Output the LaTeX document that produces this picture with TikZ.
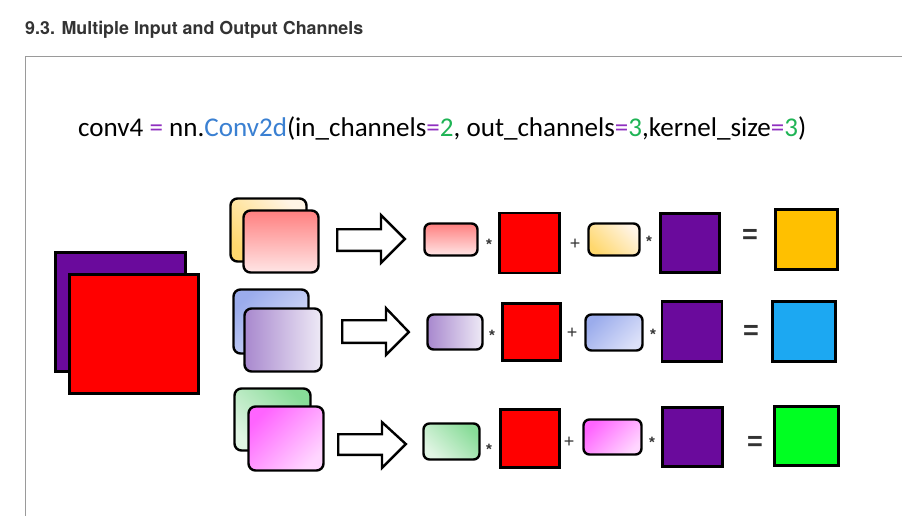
\documentclass[tikz,border=0pt]{standalone}
\usepackage{fontspec}
\setmainfont{Carlito}
\newfontfamily\heros{TeX Gyre Heros}
\newfontfamily\arialf{Liberation Sans}
\usepackage{graphicx}
\definecolor{cpurple}{HTML}{9030C0}
\definecolor{cblue}{HTML}{3A80D2}
\definecolor{cgreen}{HTML}{1FB455}
\definecolor{sqpurple}{HTML}{6A0A9C}
\definecolor{sqred}{HTML}{FF0000}
\definecolor{sqorange}{HTML}{FFC000}
\definecolor{sqblue}{HTML}{1CA8F2}
\definecolor{sqgreen}{HTML}{00FF22}
\definecolor{framegray}{HTML}{9A9A9A}
\definecolor{opgray}{HTML}{333333}
\begin{document}
\begin{tikzpicture}[x=1pt,y=-1pt,
  sq/.style={draw=black,line width=2.6pt,minimum width=#1,minimum height=#1,inner sep=0pt,outer sep=0pt},
  kern/.style={draw=black,line width=2.4pt,rounded corners=7pt,inner sep=0pt,outer sep=0pt},
  kpink/.style={kern,top color=red!50!white,bottom color=red!10!white,shading angle=0},
  kyellow/.style={kern,top color=yellow!15!orange!10!white,bottom color={rgb,255:red,255;green,216;blue,110},shading angle=-45},
  kblue/.style={kern,top color={rgb,255:red,155;green,172;blue,236},bottom color={rgb,255:red,220;green,225;blue,249},shading angle=45},
  klav/.style={kern,top color={rgb,255:red,168;green,136;blue,206},bottom color={rgb,255:red,238;green,234;blue,246},shading angle=90},
  kgreen/.style={kern,top color={rgb,255:red,136;green,220;blue,152},bottom color={rgb,255:red,225;green,245;blue,228},shading angle=-45},
  kmag/.style={kern,top color={rgb,255:red,255;green,100;blue,255},bottom color={rgb,255:red,255;green,214;blue,255},shading angle=45},
  blockarrow/.style={draw=black,line width=2.4pt,fill=white,line join=miter},
  opstar/.style={text=opgray,font=\arialf\bfseries\fontsize{15}{15}\selectfont,inner sep=0pt},
  opplus/.style={text=opgray,font=\arialf\fontsize{18}{18}\selectfont,inner sep=0pt},
  opeq/.style={text=opgray,font=\arialf\bfseries\fontsize{27}{27}\selectfont,inner sep=0pt}
]
\useasboundingbox (0,0) rectangle (902,516);
\fill[white] (0,0) rectangle (902,516);
% title and frame
\node[anchor=base west,inner sep=0pt,text=opgray] (title) at (25,35)
  {\resizebox{338pt}{!}{\heros\bfseries 9.3. Multiple Input and Output Channels}};
\coordinate (fTL) at (25,57);
\coordinate (fTR) at (902,57);
\coordinate (fBL) at (25,516);
\draw[framegray,line width=1pt] (fTR) -- (fTL) -- (fBL);
% code line
\node[anchor=base west,inner sep=0pt] (code) at (78,137)
  {\resizebox{728pt}{!}{conv4 \textcolor{cpurple}{=} nn.\textcolor{cblue}{Conv2d}(in\_channels\textcolor{cpurple}{=}\textcolor{cgreen}{2}, out\_channels\textcolor{cpurple}{=}\textcolor{cgreen}{3},kernel\_size\textcolor{cpurple}{=}\textcolor{cgreen}{3})}};
% input channels
\node[draw=black,line width=2.6pt,fill=sqpurple,minimum width=130pt,minimum height=119pt,inner sep=0pt] (inP) at (120.5,312) {};
\node[draw=black,line width=2.6pt,fill=sqred,minimum width=129pt,minimum height=119pt,inner sep=0pt] (inR) at (134,334) {};
% kernel stacks
\node[kyellow,minimum width=76pt,minimum height=63pt] (k1b) at (268.5,230) {};
\node[kpink,minimum width=75pt,minimum height=62pt] (k1f) at (281,241.5) {};
\node[kblue,minimum width=75pt,minimum height=64pt] (k2b) at (271,321.5) {};
\node[klav,minimum width=77pt,minimum height=63pt] (k2f) at (283,340) {};
\node[kgreen,minimum width=76pt,minimum height=62pt] (k3b) at (272.5,419.5) {};
\node[kmag,minimum width=75pt,minimum height=64pt] (k3f) at (286,438.5) {};
% block arrows
\draw[blockarrow] (337.2,229.2) -- (381,229.2) -- (381,215.2) -- (404.8,239) -- (381,262.8) -- (381,250.8) -- (337.2,250.8) -- cycle;
\draw[blockarrow] (342.2,320.2) -- (386,320.2) -- (386,308.2) -- (408.8,332) -- (386,354.8) -- (386,342.8) -- (342.2,342.8) -- cycle;
\draw[blockarrow] (338.2,434.2) -- (382,434.2) -- (382,422.2) -- (405.8,444) -- (382,467.8) -- (382,454.8) -- (338.2,454.8) -- cycle;
% row 1
\node[kpink,rounded corners=6pt,minimum width=53pt,minimum height=32pt] (r1k1) at (451,239.5) {};
\node[opstar] (r1s1) at (489,244) {*};
\node[sq=60pt,fill=sqred] (r1a) at (529.5,243) {};
\node[opplus] (r1p) at (575,244) {+};
\node[kyellow,rounded corners=6pt,minimum width=51pt,minimum height=32pt] (r1k2) at (614,239.5) {};
\node[opstar] (r1s2) at (649,241) {*};
\node[sq=59pt,fill=sqpurple] (r1b) at (690,243) {};
\node[opeq] (r1e) at (750,236) {=};
\node[draw=black,line width=2.6pt,fill=sqorange,minimum width=62pt,minimum height=60pt,inner sep=0pt] (r1o) at (806.5,239.5) {};
% row 2
\node[klav,rounded corners=6pt,minimum width=55pt,minimum height=35pt] (r2k1) at (455,332) {};
\node[opstar] (r2s1) at (492,335) {*};
\node[draw=black,line width=2.6pt,fill=sqred,minimum width=58pt,minimum height=57pt,inner sep=0pt] (r2a) at (531.5,332) {};
\node[opplus] (r2p) at (572,333) {+};
\node[kblue,rounded corners=6pt,minimum width=57pt,minimum height=36pt] (r2k2) at (614,332.5) {};
\node[opstar] (r2s2) at (653,334) {*};
\node[sq=60pt,fill=sqpurple] (r2b) at (692,331.5) {};
\node[opeq] (r2e) at (751,332) {=};
\node[draw=black,line width=2.6pt,fill=sqblue,minimum width=63pt,minimum height=60pt,inner sep=0pt] (r2o) at (804,331.5) {};
% row 3
\node[kgreen,rounded corners=6pt,minimum width=56pt,minimum height=36pt] (r3k1) at (451.5,441.5) {};
\node[opstar] (r3s1) at (489,449) {*};
\node[draw=black,line width=2.6pt,fill=sqred,minimum width=59pt,minimum height=58pt,inner sep=0pt] (r3a) at (530,438.5) {};
\node[opplus] (r3p) at (569,442) {+};
\node[kmag,rounded corners=6pt,minimum width=58pt,minimum height=35pt] (r3k2) at (612.5,437) {};
\node[opstar] (r3s2) at (652,442) {*};
\node[draw=black,line width=2.6pt,fill=sqpurple,minimum width=60pt,minimum height=59pt,inner sep=0pt] (r3b) at (692.5,437) {};
\node[opeq] (r3e) at (755,443) {=};
\node[draw=black,line width=2.6pt,fill=sqgreen,minimum width=64pt,minimum height=59pt,inner sep=0pt] (r3o) at (806.5,436) {};
\end{tikzpicture}
\end{document}
